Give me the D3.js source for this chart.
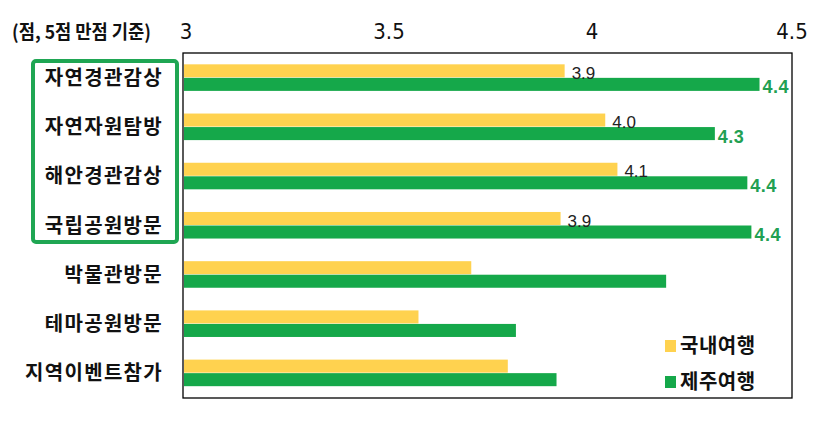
<!DOCTYPE html>
<html>
<head>
<meta charset="utf-8">
<script src="https://cdn.jsdelivr.net/npm/d3@7"></script>
<style>
	body { margin: 0; background: #fff; }
	svg { display: block; }
	.cat { font-family: "Noto Sans CJK KR", sans-serif; font-weight: bold; font-size: 20px; letter-spacing: 1.3px; fill: #111; }
	.tick-label { font-family: "Liberation Sans Narrow", "DejaVu Sans Condensed", sans-serif; font-size: 22px; fill: #111; }
</style>
</head>
<body>
<div id="chart"></div>
<script>
const categories = ['자연경관감상', '자연자원탐방', '해안경관감상', '국립공원방문', '박물관방문', '테마공원방문', '지역이벤트참가'];
const domestic = [3.94, 4.04, 4.07, 3.93, 3.71, 3.58, 3.80];
const jeju = [4.42, 4.31, 4.39, 4.40, 4.19, 3.82, 3.92];
const domesticLabels = ['3.9', '4.0', '4.1', '3.9', null, null, null];
const jejuLabels = ['4.4', '4.3', '4.4', '4.4', null, null, null];
const ticks = [3, 3.5, 4, 4.5];
const seriesNames = ['국내여행', '제주여행'];

const width = 833, height = 428;
const yellow = '#FFD24F', green = '#15A84A', labelGreen = '#22A052';
const plot = { left: 183, right: 792, top: 53, bottom: 398 };

const svg = d3.select('#chart').append('svg')
	.attr('width', width)
	.attr('height', height);

const x = d3.scaleLinear()
	.domain([3, 4.5])
	.range([plot.left, plot.right]);

const y = d3.scaleBand()
	.domain(categories)
	.range([plot.top, plot.bottom])
	.paddingInner(0.45)
	.paddingOuter(0.23);

const sub = d3.scaleBand()
	.domain(seriesNames)
	.range([0, y.bandwidth()]);

// unit note + top tick labels
svg.append('text')
	.attr('x', 12).attr('y', 39)
	.style('font-family', '"Noto Sans CJK KR", sans-serif')
	.style('font-size', '19px')
	.style('font-weight', 'bold')
	.attr('transform', 'translate(12,0) scale(0.93,1) translate(-12,0)')
	.attr('fill', '#111')
	.text('(점, 5점 만점 기준)');

svg.selectAll('.tick-label')
	.data(ticks)
	.enter()
	.append('text')
	.classed('tick-label', true)
	.attr('x', d => x(d) + (d === 4.5 ? 0 : 3))
	.attr('y', 39)
	.attr('text-anchor', 'middle')
	.text(d => d);

// plot frame
svg.append('rect')
	.attr('x', plot.left).attr('y', plot.top)
	.attr('width', plot.right - plot.left)
	.attr('height', plot.bottom - plot.top)
	.attr('fill', 'none')
	.attr('stroke', '#000')
	.attr('stroke-width', 1.3);

const row = svg.selectAll('g.row')
	.data(categories)
	.enter()
	.append('g')
	.classed('row', true)
	.attr('transform', d => `translate(0, ${y(d)})`);

row.append('rect')
	.attr('x', x(3) + 1)
	.attr('y', sub('국내여행'))
	.attr('width', (d, i) => x(domestic[i]) - x(3) - 1)
	.attr('height', sub.bandwidth() - 0.5)
	.attr('fill', yellow);

row.append('rect')
	.attr('x', x(3) + 1)
	.attr('y', sub('제주여행'))
	.attr('width', (d, i) => x(jeju[i]) - x(3) - 1)
	.attr('height', sub.bandwidth() - 0.5)
	.attr('fill', green);

row.append('text')
	.attr('x', (d, i) => x(domestic[i]) + 7)
	.attr('y', sub('국내여행') + sub.bandwidth() + 1)
	.style('font-family', 'Arial, "Liberation Sans", sans-serif')
	.style('font-size', '17px')
	.attr('fill', '#222')
	.text((d, i) => domesticLabels[i]);

row.append('text')
	.attr('x', (d, i) => x(jeju[i]) + 3)
	.attr('y', sub('제주여행') + sub.bandwidth() + 2)
	.style('font-family', 'Arial, "Liberation Sans", sans-serif')
	.style('font-size', '18px')
	.style('font-weight', 'bold')
	.style('letter-spacing', '0.5px')
	.attr('fill', labelGreen)
	.text((d, i) => jejuLabels[i]);

// category labels
svg.selectAll('.cat')
	.data(categories)
	.enter()
	.append('text')
	.classed('cat', true)
	.attr('x', 163)
	.attr('y', d => y(d) + y.bandwidth() / 2 + 7)
	.attr('text-anchor', 'end')
	.text(d => d);

// highlight box around the first four
svg.append('rect')
	.attr('x', 33).attr('y', 61)
	.attr('width', 144).attr('height', 181)
	.attr('rx', 3)
	.attr('fill', 'none')
	.attr('stroke', '#1FA653')
	.attr('stroke-width', 4);

// legend
const legend = svg.append('g')
	.attr('transform', 'translate(665, 336)');

const item = legend.selectAll('g')
	.data(seriesNames)
	.enter()
	.append('g')
	.attr('transform', (d, i) => `translate(0, ${i * 36})`);

item.append('rect')
	.attr('width', 11).attr('height', 12)
	.attr('y', 4)
	.attr('fill', (d, i) => i === 0 ? yellow : green);

item.append('text')
	.attr('x', 15).attr('y', 17)
	.style('font-family', '"Noto Sans CJK KR", sans-serif')
	.style('font-weight', 'bold')
	.style('font-size', '20px')
	.style('letter-spacing', '0.5px')
	.attr('fill', '#111')
	.text(d => d);
</script>
</body>
</html>
